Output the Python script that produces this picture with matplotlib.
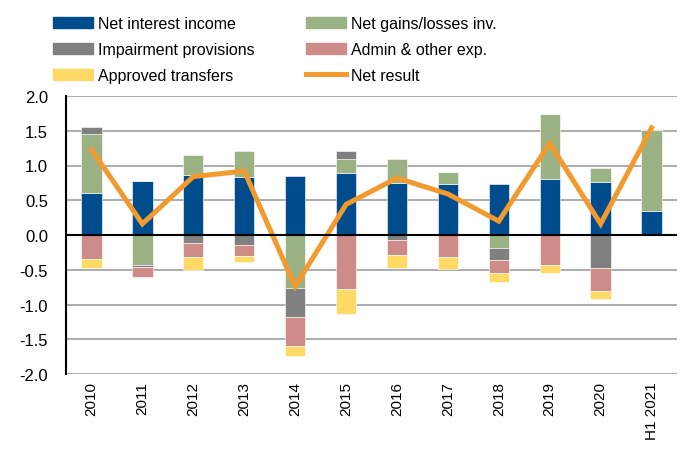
import numpy as np
import matplotlib
matplotlib.use("Agg")
import matplotlib.pyplot as plt
from matplotlib.patches import Patch
from matplotlib.lines import Line2D

plt.rcParams['font.family'] = ['Liberation Sans', 'DejaVu Sans']

years = ["2010", "2011", "2012", "2013", "2014", "2015", "2016", "2017",
         "2018", "2019", "2020", "H1 2021"]

net_interest = [0.61, 0.78, 0.86, 0.83, 0.85, 0.89, 0.75, 0.74, 0.74, 0.81, 0.76, 0.35]
net_gains = [0.85, -0.43, 0.29, 0.38, -0.76, 0.20, 0.34, 0.16, -0.18, 0.93, 0.21, 1.16]
impairment = [0.09, -0.035, -0.12, -0.14, -0.42, 0.12, -0.07, 0.0, -0.18, 0.0, -0.48, 0.0]
admin_exp = [-0.34, -0.145, -0.20, -0.16, -0.41, -0.77, -0.22, -0.31, -0.18, -0.43, -0.32, 0.02]
transfers = [-0.14, 0.0, -0.19, -0.09, -0.15, -0.37, -0.18, -0.18, -0.14, -0.12, -0.12, 0.0]
net_result = [1.23, 0.16, 0.84, 0.92, -0.74, 0.44, 0.82, 0.59, 0.20, 1.32, 0.16, 1.54]

series = [
    ("Net interest income", net_interest, "#004C8C"),
    ("Net gains/losses inv.", net_gains, "#9BB384"),
    ("Impairment provisions", impairment, "#808080"),
    ("Admin & other exp.", admin_exp, "#CD8C87"),
    ("Approved transfers", transfers, "#FFD966"),
]
line_color = "#F29A2E"

fig = plt.figure(figsize=(6.83, 4.52), dpi=100)
ax = fig.add_axes([66 / 683, 1 - 375 / 452, (677 - 66) / 683, (375 - 97) / 452])

x = np.arange(len(years))
pos_acc = np.zeros(len(years))
neg_acc = np.zeros(len(years))
for name, vals, col in series:
    v = np.array(vals)
    bottom = np.where(v >= 0, pos_acc, neg_acc)
    ax.bar(x, v, width=0.4, bottom=bottom, color=col, edgecolor="white",
           linewidth=0.4, zorder=2)
    pos_acc = pos_acc + np.where(v >= 0, v, 0)
    neg_acc = neg_acc + np.where(v < 0, v, 0)

ax.plot(x, net_result, color=line_color, linewidth=3.6, zorder=3,
        solid_joinstyle="miter")

ax.set_xlim(-0.5, len(years) - 0.5)
ax.set_ylim(-2.0, 2.0)
ax.set_yticks(np.arange(-2.0, 2.01, 0.5))
ax.set_yticklabels([f"{t:.1f}" for t in np.arange(-2.0, 2.01, 0.5)])
ax.yaxis.grid(True, color="#A6A6A6", linewidth=1.3, zorder=0)
ax.set_axisbelow(True)
ax.axhline(0, color="black", linewidth=1.5, zorder=4)

ax.set_xticks(x)
ax.set_xticklabels(years, rotation=90, va="top", ha="center")
ax.tick_params(axis="x", length=0, pad=5, labelsize=11)
ax.tick_params(axis="y", length=0, pad=13, labelsize=12)

for s in ["top", "right", "bottom"]:
    ax.spines[s].set_visible(False)
ax.spines["left"].set_color("black")
ax.spines["left"].set_linewidth(1.5)

h = [Patch(color=c) for _, _, c in series]
labels = [n for n, _, _ in series]
left_handles = [h[0], h[2], h[4]]
left_labels = [labels[0], labels[2], labels[4]]
right_handles = [h[1], h[3], Line2D([], [], color=line_color, linewidth=3.6)]
right_labels = [labels[1], labels[3], "Net result"]

leg_kw = dict(loc="upper left", frameon=False, fontsize=11.5, handlelength=2.5,
              handletextpad=0.3, labelspacing=0.69, borderpad=0, borderaxespad=0)
fig.legend(left_handles, left_labels, bbox_to_anchor=(53 / 683, 1 - 17 / 452), **leg_kw)
fig.legend(right_handles, right_labels, bbox_to_anchor=(306 / 683, 1 - 17 / 452), **leg_kw)

fig.savefig("out.png", dpi=100)
